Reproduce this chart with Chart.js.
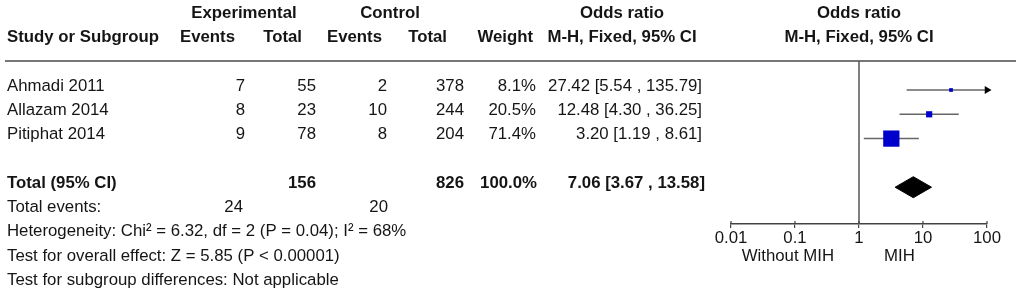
<!DOCTYPE html>
<html lang="en">
<head>
<meta charset="UTF-8">
<title>Forest plot - MIH</title>
<style>
  body { margin:0; padding:0; background:#fff; }
  #wrap { position:relative; width:1021px; height:299px; }
</style>
</head>
<body>
<div id="wrap"><canvas id="forest"></canvas></div>

<script src="https://cdn.jsdelivr.net/npm/chart.js"></script>
<script>
// study data
const studies    = ["Ahmadi 2011", "Allazam 2014", "Pitiphat 2014"];
const expEvents  = [7, 8, 9];
const expTotal   = [55, 23, 78];
const ctrlEvents = [2, 10, 8];
const ctrlTotal  = [378, 244, 204];
const weights    = [8.1, 20.5, 71.4];
const orEst      = [27.42, 12.48, 3.20];
const ciLow      = [5.54, 4.30, 1.19];
const ciHigh     = [135.79, 36.25, 8.61];

// pooled
const totalExp = 156, totalCtrl = 826, totalWeight = 100.0;
const totalOR = 7.06, totalLow = 3.67, totalHigh = 13.58;
const totalEventsExp = 24, totalEventsCtrl = 20;

const footLines = [
  "Heterogeneity: Chi\u00b2 = 6.32, df = 2 (P = 0.04); I\u00b2 = 68%",
  "Test for overall effect: Z = 5.85 (P < 0.00001)",
  "Test for subgroup differences: Not applicable"
];

const xTicks = [0.01, 0.1, 1, 10, 100];
const xTickLabels = ["0.01", "0.1", "1", "10", "100"];
const favourLeft = "Without MIH", favourRight = "MIH";

// layout-ish
const FONT = '"Liberation Sans", Arial, sans-serif';
const FS = 16.8;
const totalRow = 4;
const rowPx = 24.3;
const xMin = 0.01, xMax = 100;

const ciStr = (e, l, h) => e.toFixed(2) + " [" + l.toFixed(2) + " , " + h.toFixed(2) + "]";

// datasets (higher order = drawn underneath)
const datasets = [];
studies.forEach((s, i) => {
  datasets.push({
    data: [{x: ciLow[i], y: i}, {x: Math.min(ciHigh[i], xMax), y: i}],
    showLine: true, borderColor: '#666', borderWidth: 1.5, pointRadius: 0, order: 5
  });
  if (ciHigh[i] > xMax) {
    datasets.push({
      data: [{x: xMax, y: i}],
      pointStyle: 'triangle', rotation: 90, pointRadius: 4.5,
      backgroundColor: '#000', borderColor: '#000', borderWidth: 0, clip: false, order: 4
    });
  }
});
datasets.push({
  data: orEst.map((v, i) => ({x: v, y: i})),
  pointStyle: 'rect',
  pointRadius: ctx => 0.14 * weights[ctx.dataIndex] + 1.5,
  backgroundColor: '#0000cc', borderWidth: 0, clip: false, order: 1
});
const dh = 10.5 / rowPx;
datasets.push({
  data: [{x: totalLow, y: totalRow}, {x: totalOR, y: totalRow - dh}, {x: totalHigh, y: totalRow},
         {x: totalOR, y: totalRow + dh}, {x: totalLow, y: totalRow}],
  showLine: true, fill: 'shape', backgroundColor: '#000', borderColor: '#000',
  borderWidth: 1, pointRadius: 0, order: 2
});

const tablePlugin = {
  id: 'table',
  beforeDatasetsDraw(chart) {
    const {ctx, chartArea, scales: {x}} = chart;
    const x1 = x.getPixelForValue(1);
    ctx.save();
    // header rule
    ctx.strokeStyle = '#777'; ctx.lineWidth = 2;
    ctx.beginPath(); ctx.moveTo(5, chartArea.top); ctx.lineTo(1016, chartArea.top); ctx.stroke();
    // line of no effect
    ctx.strokeStyle = '#555'; ctx.lineWidth = 1.5;
    ctx.beginPath(); ctx.moveTo(x1, chartArea.top); ctx.lineTo(x1, chartArea.bottom); ctx.stroke();
    // upper half of the axis ticks
    ctx.strokeStyle = '#444'; ctx.lineWidth = 1.2;
    x.ticks.forEach(t => {
      const px = x.getPixelForValue(t.value);
      ctx.beginPath(); ctx.moveTo(px, chartArea.bottom - 3); ctx.lineTo(px, chartArea.bottom); ctx.stroke();
    });
    ctx.restore();
  },
  afterDraw(chart) {
    const {ctx, scales: {x, y}} = chart;
    const ty = r => y.getPixelForValue(r) - 4;
    const put = (txt, px, r, align, bold) => {
      ctx.font = (bold ? 'bold ' : '') + FS + 'px ' + FONT;
      ctx.textAlign = align;
      ctx.fillText(txt, px, ty(r));
    };
    const x1 = x.getPixelForValue(1);
    ctx.save();
    ctx.fillStyle = '#151515';
    ctx.textBaseline = 'middle';
    // headers
    put("Experimental", 244, -3, 'center', true);
    put("Control", 390, -3, 'center', true);
    put("Odds ratio", 622, -3, 'center', true);
    put("Odds ratio", x1, -3, 'center', true);
    put("Study or Subgroup", 7, -2, 'left', true);
    put("Events", 235, -2, 'right', true);
    put("Total", 302, -2, 'right', true);
    put("Events", 382, -2, 'right', true);
    put("Total", 447, -2, 'right', true);
    put("Weight", 533, -2, 'right', true);
    put("M-H, Fixed, 95% CI", 622, -2, 'center', true);
    put("M-H, Fixed, 95% CI", x1, -2, 'center', true);
    // studies
    studies.forEach((s, i) => {
      put(s, 7, i, 'left');
      put(String(expEvents[i]), 245, i, 'right');
      put(String(expTotal[i]), 316, i, 'right');
      put(String(ctrlEvents[i]), 387, i, 'right');
      put(String(ctrlTotal[i]), 464, i, 'right');
      put(weights[i].toFixed(1) + "%", 536, i, 'right');
      put(ciStr(orEst[i], ciLow[i], ciHigh[i]), 702, i, 'right');
    });
    // total
    put("Total (95% CI)", 7, totalRow, 'left', true);
    put(String(totalExp), 316, totalRow, 'right', true);
    put(String(totalCtrl), 464, totalRow, 'right', true);
    put(totalWeight.toFixed(1) + "%", 537, totalRow, 'right', true);
    put(ciStr(totalOR, totalLow, totalHigh), 705, totalRow, 'right', true);
    put("Total events:", 7, totalRow + 1, 'left');
    put(String(totalEventsExp), 243, totalRow + 1, 'right');
    put(String(totalEventsCtrl), 388, totalRow + 1, 'right');
    footLines.forEach((t, k) => put(t, 7, totalRow + 2 + k, 'left'));
    // favours labels
    put(favourLeft, x1 - 25, totalRow + 3, 'right');
    put(favourRight, x1 + 25, totalRow + 3, 'left');
    ctx.restore();
  }
};

new Chart(document.getElementById('forest'), {
  type: 'scatter',
  data: { datasets },
  options: {
    responsive: true, maintainAspectRatio: false, animation: false,
    layout: { padding: { left: 731, right: 34, top: 61, bottom: 55 } },
    plugins: { legend: { display: false }, tooltip: { enabled: false } },
    scales: {
      x: {
        type: 'logarithmic', min: xMin, max: xMax,
        afterBuildTicks: s => { s.ticks = xTicks.map(v => ({value: v})); },
        afterFit: s => { s.height = 20; },
        grid: { drawOnChartArea: false, tickLength: 4, color: '#444', lineWidth: 1.2 },
        border: { color: '#444', width: 1.5 },
        ticks: {
          padding: 0, color: '#151515', font: { family: FONT, size: FS },
          autoSkip: false, maxRotation: 0,
          callback: (v) => xTickLabels[xTicks.indexOf(v)]
        }
      },
      y: {
        type: 'linear', reverse: true, display: false,
        min: (61 - 90) / rowPx, max: (224 - 90) / rowPx
      }
    }
  },
  plugins: [tablePlugin]
});
</script>
</body>
</html>
